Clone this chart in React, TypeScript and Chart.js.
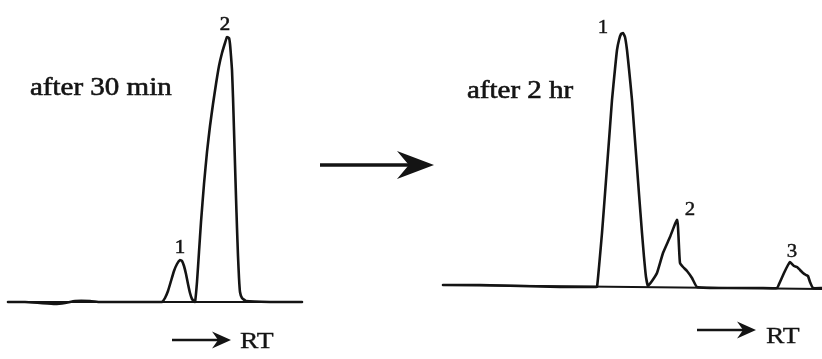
import React, { useEffect, useRef } from "react";
import { Chart, registerables } from "chart.js";

Chart.register(...registerables);

// ---- Left chromatogram: after 30 min (retention position, detector signal above baseline)
const leftRT = [8, 25, 40, 55, 65, 75, 90, 100, 130, 160,
  162, 165, 168, 171, 174, 177, 180, 182, 184, 186, 188, 190, 192, 195,
  197, 199, 201, 204, 207, 210, 213, 216, 219, 222, 225, 227, 229, 230, 231, 232, 233, 234, 235, 236, 237, 238, 239, 240, 242, 246,
  270, 302];
const leftSignal = [0, 0, -1, -2, -1, 1, 1, 0, 0, 0,
  0, 4, 11, 21, 31, 38, 42, 41, 36, 28, 18, 9, 3, 0,
  20, 50, 80, 118, 150, 176, 198, 218, 236, 249, 259, 265, 264, 258, 246, 232, 205, 172, 138, 105, 74, 46, 24, 10, 4, 1,
  0, 0];
const leftBaseRT = [8, 302];
const leftBaseSignal = [0, 0];

// ---- Right chromatogram: after 2 hr
const rightRT = [443, 480, 520, 560, 595,
  597, 599, 602, 604, 607, 610, 612, 615, 617, 619, 621, 623, 625, 627, 629, 632, 634, 637, 639, 642, 644, 646, 648,
  652, 657, 663, 670, 675, 677, 678, 679, 680, 683, 687, 692, 697,
  720, 760,
  777, 780, 784, 788, 790, 792, 794, 797, 800, 803, 806, 808, 810, 813, 822];
const rightSignal = [2, 2, 1, 0, 0,
  0, 20, 54, 80, 120, 160, 187, 218, 237, 247, 253, 254, 250, 237, 218, 187, 160, 120, 93, 54, 30, 10, 1,
  6, 14, 34, 50, 63, 67, 60, 40, 24, 20, 16, 9, 0,
  -1, -1,
  -1, 5, 14, 22, 25, 23, 21, 20, 17, 14, 12, 11, 5, -1, -1];
const rightBaseRT = [443, 822];
const rightBaseSignal = [2, -2];

// ---- Peak labels (text, retention position, signal level of label baseline)
const leftPeakNames = ["1", "2"];
const leftPeakRT = [180, 225];
const leftPeakLevel = [49, 272];
const rightPeakNames = ["1", "2", "3"];
const rightPeakRT = [603, 690, 792];
const rightPeakLevel = [254, 72, 30];

const titles = ["after 30 min", "after 2 hr"];
const axisName = "RT";

const pts = (xs: number[], ys: number[]) => xs.map((x, i) => ({ x, y: ys[i] }));

const INK = "#141414";
const SERIF = '"Liberation Serif", "Times New Roman", serif';

function drawArrow(ctx: CanvasRenderingContext2D, x0: number, x1: number, y: number, lw: number, headLen: number, headHalf: number) {
  ctx.save();
  ctx.strokeStyle = INK;
  ctx.fillStyle = INK;
  ctx.lineWidth = lw;
  ctx.beginPath();
  ctx.moveTo(x0, y);
  ctx.lineTo(x1 - headLen * 0.6, y);
  ctx.stroke();
  ctx.beginPath();
  ctx.moveTo(x1, y);
  ctx.lineTo(x1 - headLen, y - headHalf);
  ctx.lineTo(x1 - headLen * 0.68, y);
  ctx.lineTo(x1 - headLen, y + headHalf);
  ctx.closePath();
  ctx.fill();
  ctx.restore();
}

function stretchedText(ctx: CanvasRenderingContext2D, text: string, x: number, y: number, size: number, sx: number, align: CanvasTextAlign, heavy = 0.5) {
  ctx.save();
  ctx.translate(x, y);
  ctx.scale(sx, 1);
  ctx.font = `${size}px ${SERIF}`;
  ctx.fillStyle = INK;
  ctx.strokeStyle = INK;
  ctx.lineWidth = heavy;
  ctx.textAlign = align;
  ctx.textBaseline = "alphabetic";
  ctx.fillText(text, 0, 0);
  if (heavy > 0) ctx.strokeText(text, 0, 0);
  ctx.restore();
}

const annotationPlugin = {
  id: "chromAnnotations",
  afterDatasetsDraw(chart: any) {
    const ctx: CanvasRenderingContext2D = chart.ctx;
    const x = chart.scales.x;
    const yL = chart.scales.yL;
    const yR = chart.scales.yR;

    // peak numbers
    leftPeakNames.forEach((t, i) =>
      stretchedText(ctx, t, x.getPixelForValue(leftPeakRT[i]), yL.getPixelForValue(leftPeakLevel[i]), 19, 1.1, "center", 0.6));
    rightPeakNames.forEach((t, i) =>
      stretchedText(ctx, t, x.getPixelForValue(rightPeakRT[i]), yR.getPixelForValue(rightPeakLevel[i]), 19, 1.1, "center", 0.4));

    // titles
    stretchedText(ctx, titles[0], x.getPixelForValue(30), yL.getPixelForValue(207), 25, 1.16, "left", 0.6);
    stretchedText(ctx, titles[1], x.getPixelForValue(467), yR.getPixelForValue(189), 25, 1.16, "left", 0.6);

    // RT direction arrows
    drawArrow(ctx, x.getPixelForValue(172), x.getPixelForValue(231), yL.getPixelForValue(-38), 2.6, 19, 8.5);
    stretchedText(ctx, axisName, x.getPixelForValue(240), yL.getPixelForValue(-46), 24, 1.15, "left", 0.3);
    drawArrow(ctx, x.getPixelForValue(697), x.getPixelForValue(756), yR.getPixelForValue(-43), 2.6, 19, 8.5);
    stretchedText(ctx, axisName, x.getPixelForValue(766), yR.getPixelForValue(-56), 24, 1.15, "left", 0.3);

    // big transition arrow between panels
    drawArrow(ctx, x.getPixelForValue(320), x.getPixelForValue(434), yL.getPixelForValue(137), 3.6, 37, 14);
  },
};

export default function App() {
  const ref = useRef<HTMLCanvasElement | null>(null);

  useEffect(() => {
    document.body.style.margin = "0";
    const canvas = ref.current;
    if (!canvas) return;
    const line = (data: any, yAxisID: string, width: number) => ({
      data,
      yAxisID,
      borderColor: INK,
      borderWidth: width,
      pointRadius: 0,
      tension: 0.12,
      fill: false,
      clip: false,
      borderJoinStyle: "round",
      borderCapStyle: "round",
    });
    const chart = new Chart(canvas, {
      type: "line",
      data: {
        datasets: [
          line(pts(leftBaseRT, leftBaseSignal), "yL", 2),
          line(pts(rightBaseRT, rightBaseSignal), "yR", 2),
          line(pts(leftRT, leftSignal), "yL", 2.6),
          line(pts(rightRT, rightSignal), "yR", 2.6),
        ] as any,
      },
      options: {
        animation: false,
        responsive: false,
        devicePixelRatio: 1,
        layout: { padding: 0 },
        plugins: { legend: { display: false }, tooltip: { enabled: false }, title: { display: false } },
        events: [],
        scales: {
          x: { type: "linear", min: 0, max: 822, display: false },
          yL: { type: "linear", min: -57, max: 302, display: false },
          yR: { type: "linear", min: -72, max: 287, display: false },
        },
      },
      plugins: [annotationPlugin],
    });
    return () => chart.destroy();
  }, []);

  return (
    <div style={{ width: 822, height: 359, background: "#fff" }}>
      <canvas ref={ref} width={822} height={359} style={{ display: "block" }} />
    </div>
  );
}
